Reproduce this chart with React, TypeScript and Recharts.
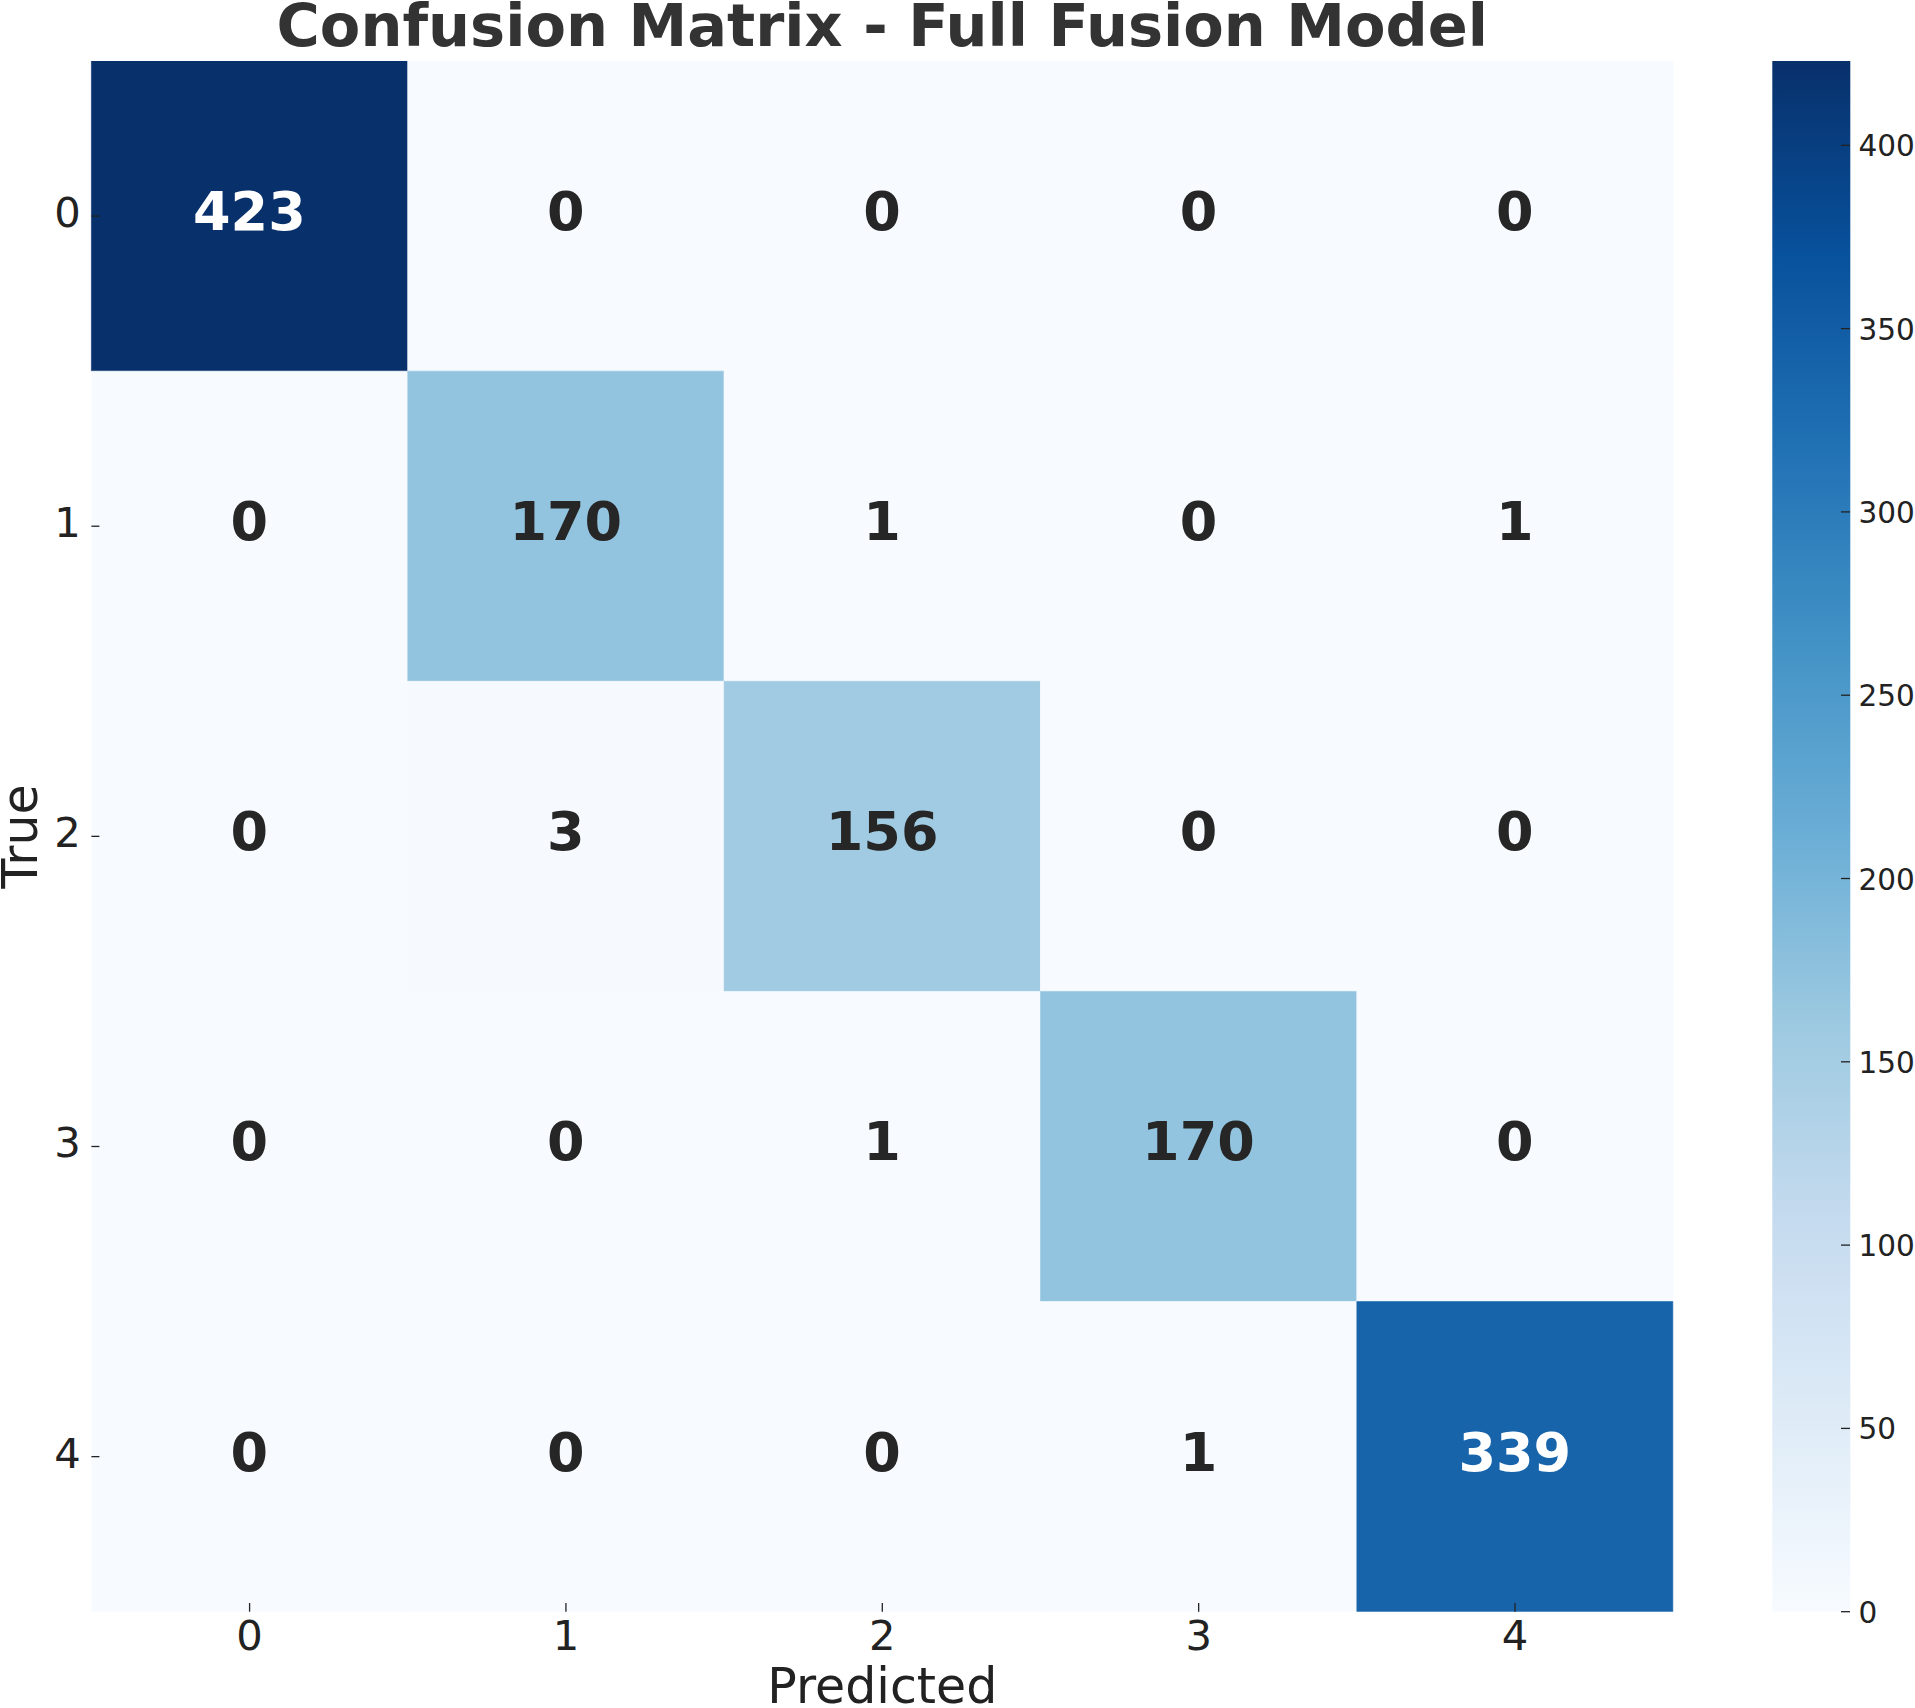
import React from 'react';
import { BarChart, Bar, XAxis, YAxis, Cell, LabelList } from 'recharts';

// ---------- data ----------
const TITLE = 'Confusion Matrix - Full Fusion Model';
const X_LABEL = 'Predicted';
const Y_LABEL = 'True';
const CLASS_LABELS = ['0', '1', '2', '3', '4'];
const ROW_0 = [423, 0, 0, 0, 0];
const ROW_1 = [0, 170, 1, 0, 1];
const ROW_2 = [0, 3, 156, 0, 0];
const ROW_3 = [0, 0, 1, 170, 0];
const ROW_4 = [0, 0, 0, 1, 339];
const MATRIX = [ROW_0, ROW_1, ROW_2, ROW_3, ROW_4];
const COLOR_MIN = 0;
const COLOR_MAX = 423;
const COLORBAR_TICKS = [0, 50, 100, 150, 200, 250, 300, 350, 400];
const BLUES = ['#f7fbff', '#deebf7', '#c6dbef', '#9ecae1', '#6baed6', '#4292c6', '#2171b5', '#08519c', '#08306b'];

// ---------- helpers ----------
const FONT = '"DejaVu Sans", Verdana, sans-serif';
const hex = (h: string) => [1, 3, 5].map((k) => parseInt(h.slice(k, k + 2), 16));
function blues(v: number): number[] {
  let t = (v - COLOR_MIN) / (COLOR_MAX - COLOR_MIN);
  t = Math.max(0, Math.min(1, t));
  const p = t * (BLUES.length - 1);
  const i = Math.min(Math.floor(p), BLUES.length - 2);
  const f = p - i;
  const a = hex(BLUES[i]);
  const b = hex(BLUES[i + 1]);
  return a.map((c, k) => c + (b[k] - c) * f);
}
const rgbStr = (c: number[]) => `rgb(${c.map((x) => Math.round(x)).join(',')})`;
function lum(c: number[]) {
  const l = c.map((x) => {
    const s = x / 255;
    return s <= 0.03928 ? s / 12.92 : Math.pow((s + 0.055) / 1.055, 2.4);
  });
  return 0.2126 * l[0] + 0.7152 * l[1] + 0.0722 * l[2];
}

const chartData = CLASS_LABELS.map((lab, j) => {
  const d: Record<string, any> = { pred: lab };
  MATRIX.forEach((row, i) => {
    d['r' + i] = 1; // one row band per true class
    d['v' + i] = row[j];
  });
  return d;
});
const rowCenters = CLASS_LABELS.map((_, i) => i + 0.5);
const colorbarData = [{ name: 'cb', value: COLOR_MAX }];

const TICK_COLOR = '#222222';

const XTick = (props: any) => {
  const { x, y, payload } = props;
  return (
    <g>
      <line x1={x} x2={x} y1={y - 8.7} y2={y} stroke={TICK_COLOR} strokeWidth={1.3} />
      <text x={x} y={y + 38.7} textAnchor="middle" fontSize={41.7} fill={TICK_COLOR} fontFamily={FONT}>
        {payload.value}
      </text>
    </g>
  );
};

const YTick = (props: any) => {
  const { x, y, payload } = props;
  const idx = Math.floor(payload.value);
  return (
    <g>
      <line x1={x} x2={x + 8} y1={y} y2={y} stroke={TICK_COLOR} strokeWidth={1.3} />
      <text x={x - 10.5} y={y + 11} textAnchor="end" fontSize={41.7} fill={TICK_COLOR} fontFamily={FONT}>
        {CLASS_LABELS[idx]}
      </text>
    </g>
  );
};

const CBTick = (props: any) => {
  const { x, y, payload } = props;
  return (
    <g>
      <line x1={x - 9} x2={x} y1={y} y2={y} stroke={TICK_COLOR} strokeWidth={1.3} />
      <text x={x + 8.5} y={y + 11} textAnchor="start" fontSize={29.5} fill={TICK_COLOR} fontFamily={FONT}>
        {payload.value}
      </text>
    </g>
  );
};

const makeLabel = (rowIdx: number) => (props: any) => {
  const { x, y, width, height, index } = props;
  const v = MATRIX[rowIdx][index];
  const c = blues(v);
  const fill = lum(c) < 0.408 ? '#ffffff' : '#262626';
  return (
    <text
      x={Number(x) + Number(width) / 2}
      y={Number(y) + Number(height) / 2 + 14}
      textAnchor="middle"
      fontSize={54}
      fontWeight="bold"
      fill={fill}
      fontFamily={FONT}
    >
      {v}
    </text>
  );
};

export default function App() {
  return (
    <div style={{ position: 'absolute', left: 0, top: 0, width: 1915, height: 1708, background: '#ffffff' }}>
      <svg width={0} height={0} style={{ position: 'absolute' }}>
        <defs>
          <linearGradient id="bluesGrad" x1="0" y1="1" x2="0" y2="0">
            {BLUES.map((c, k) => (
              <stop key={k} offset={k / (BLUES.length - 1)} stopColor={c} />
            ))}
          </linearGradient>
        </defs>
      </svg>

      <div style={{ position: 'absolute', left: 0, top: 0 }}>
        <BarChart
          width={1915}
          height={1708}
          data={chartData}
          margin={{ top: 61, right: 241.8, bottom: 36.3, left: 31.4 }}
          barCategoryGap={0}
          barGap={0}
        >
          {MATRIX.map((row, i) => (
            <Bar key={i} dataKey={'r' + i} stackId="cm" isAnimationActive={false}>
              {CLASS_LABELS.map((_, j) => {
                const col = rgbStr(blues(MATRIX[i][j]));
                return <Cell key={j} fill={col} stroke={col} strokeWidth={0.6} />;
              })}
              <LabelList dataKey={'v' + i} content={makeLabel(i)} />
            </Bar>
          ))}
          <XAxis
            dataKey="pred"
            type="category"
            height={60}
            axisLine={false}
            tickLine={false}
            tickSize={0}
            tickMargin={0}
            interval={0}
            tick={<XTick />}
          />
          <YAxis
            type="number"
            domain={[0, CLASS_LABELS.length]}
            reversed
            width={60}
            ticks={rowCenters}
            interval={0}
            axisLine={false}
            tickLine={false}
            tickSize={0}
            tickMargin={0}
            allowDataOverflow
            tick={<YTick />}
          />
        </BarChart>
      </div>

      <div style={{ position: 'absolute', left: 1700, top: 0 }}>
        <BarChart
          width={215}
          height={1708}
          data={colorbarData}
          margin={{ top: 61, right: 0, bottom: 96.3, left: 72.3 }}
          barCategoryGap={0}
          barGap={0}
        >
          <Bar dataKey="value" fill="url(#bluesGrad)" isAnimationActive={false} />
          <XAxis dataKey="name" type="category" hide />
          <YAxis
            orientation="right"
            type="number"
            domain={[COLOR_MIN, COLOR_MAX]}
            ticks={COLORBAR_TICKS}
            interval={0}
            width={65}
            axisLine={false}
            tickLine={false}
            tickSize={0}
            tickMargin={0}
            allowDataOverflow
            tick={<CBTick />}
          />
        </BarChart>
      </div>

      <svg width={1915} height={1708} style={{ position: 'absolute', left: 0, top: 0, pointerEvents: 'none' }}>
        <text x={882.3} y={46} textAnchor="middle" fontSize={59} fontWeight="bold" fill="#333333" fontFamily={FONT}>
          {TITLE}
        </text>
        <text x={882.3} y={1703} textAnchor="middle" fontSize={49} fill={TICK_COLOR} fontFamily={FONT}>
          {X_LABEL}
        </text>
        <text
          x={0}
          y={0}
          transform="translate(37 836.4) rotate(-90)"
          textAnchor="middle"
          fontSize={49}
          fill={TICK_COLOR}
          fontFamily={FONT}
        >
          {Y_LABEL}
        </text>
      </svg>
    </div>
  );
}
